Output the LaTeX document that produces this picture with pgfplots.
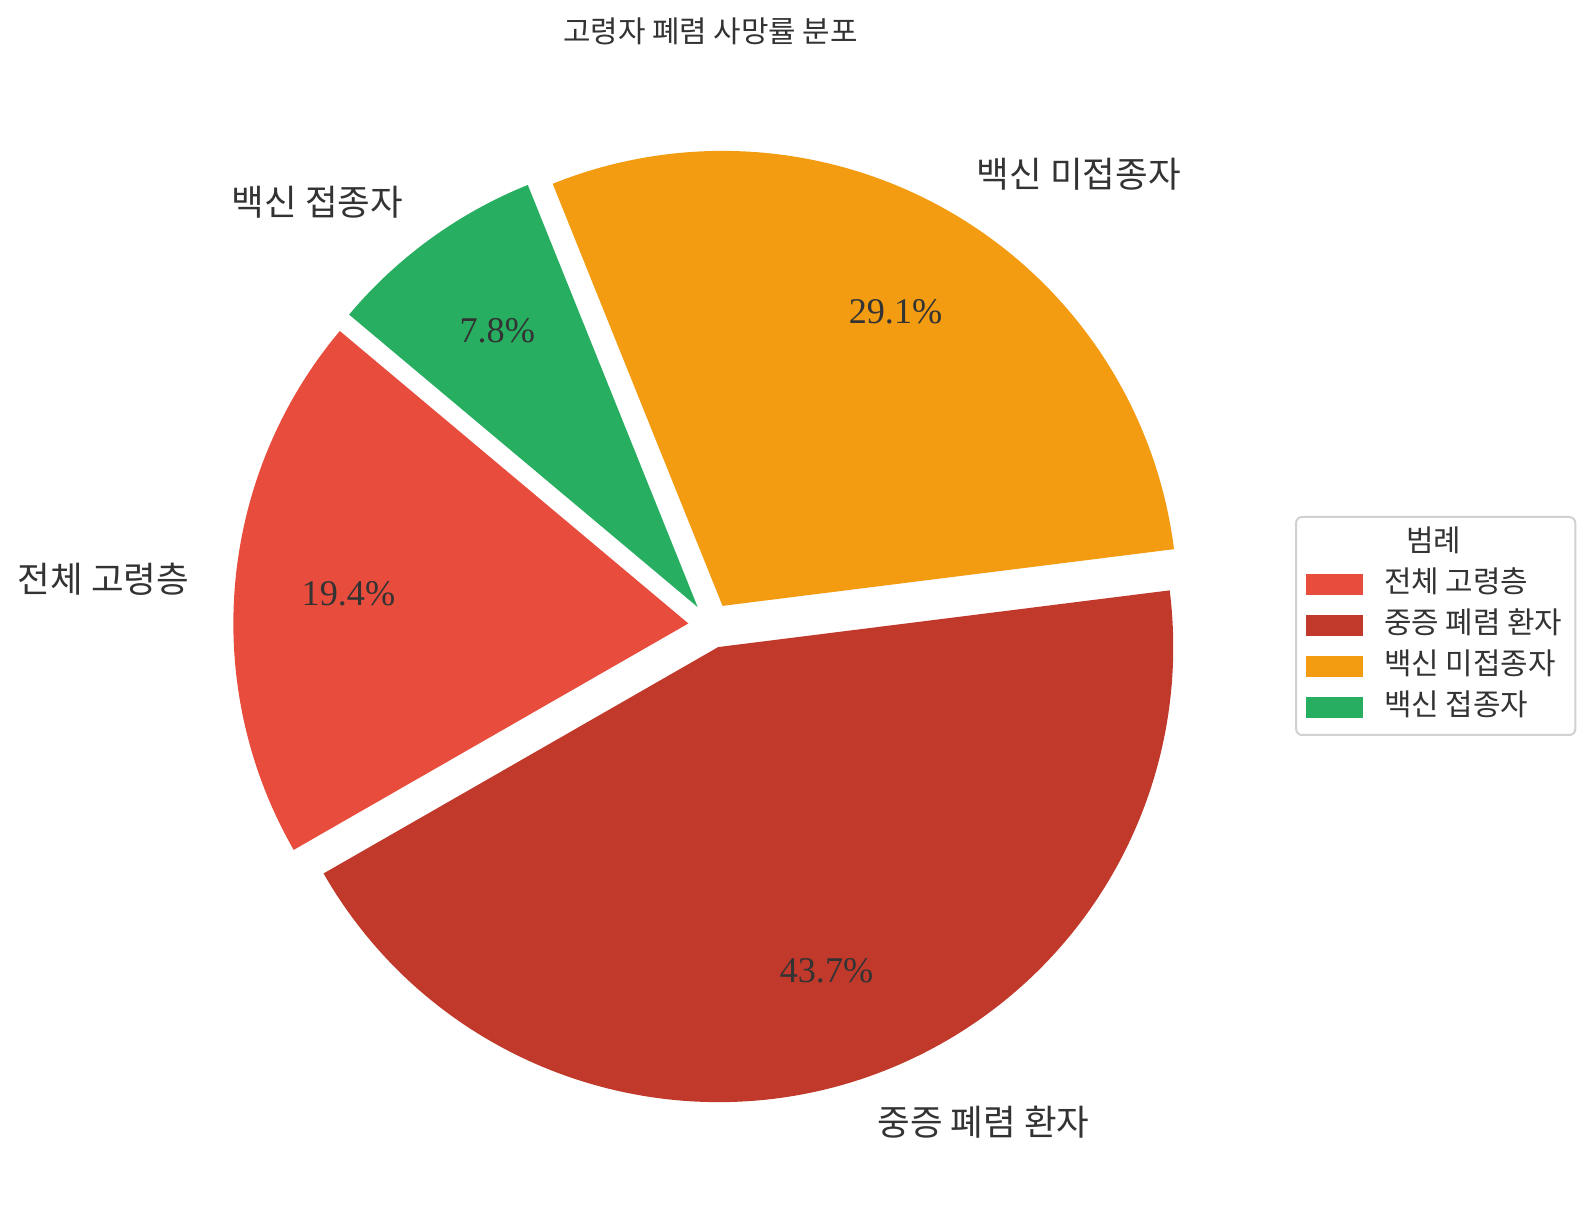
\documentclass[border=0pt]{standalone}
\usepackage{fontspec}
\usepackage{pgfplots}
\pgfplotsset{compat=1.18}
\newfontfamily\kr{Noto Sans CJK KR}
\newfontfamily\pctfont{Liberation Serif}
\definecolor{cA}{HTML}{E74C3C}
\definecolor{cB}{HTML}{C0392B}
\definecolor{cC}{HTML}{F39C12}
\definecolor{cD}{HTML}{27AE60}
\definecolor{textc}{HTML}{333333}
\tikzset{
  pct/.style={font=\fontsize{10.3}{12}\selectfont\pctfont, text=textc, inner sep=0pt},
  lab/.style={font=\fontsize{10.1}{12}\selectfont\kr, text=textc, inner sep=0pt},
}
\pgfplotsset{piepatch/.style={legend image code/.code={\fill[#1, sharp corners] (0mm,-0.95mm) rectangle (5.5mm,0.95mm);}}}
% running start angle of the pie (matplotlib startangle=140, counterclockwise)
\xdef\pieangle{140}
% #1 value (percent), #2 colour, #3 label, #4 label anchor
\newcommand{\piewedge}[4]{%
  \pgfmathsetmacro\wStart{\pieangle}%
  \pgfmathsetmacro\wEnd{\pieangle+3.6*#1}%
  \pgfmathsetmacro\wMid{\pieangle+1.8*#1}%
  \edef\wcmd{%
    \noexpand\fill[#2] ([shift={(\wMid:2.275mm)}]axis cs:711,589.5) -- ++(\wStart:45.5mm)
      arc[start angle=\wStart, end angle=\wEnd, radius=45.5mm] -- cycle;
    \noexpand\node[pct] at ([shift={(\wMid:36.4mm)}]axis cs:711,589.5) {#1\noexpand\%};
    \noexpand\node[lab, anchor=#4] at ([shift={(\wMid:52.325mm)}]axis cs:711,589.5) {#3};
  }\wcmd
  \xdef\pieangle{\wEnd}}
\begin{document}
\begin{tikzpicture}
\useasboundingbox (0,0) rectangle (159.1mm,121.5mm);
\begin{axis}[
  at={(0,0)}, anchor=origin,
  x=0.1mm, y=0.1mm,
  xmin=0, xmax=1591, ymin=0, ymax=1215,
  hide axis, clip=false,
  legend cell align=left,
  legend style={
    at={(axis cs:1295,699)}, anchor=north west,
    draw=black!18, line width=0.2mm, rounded corners=0.6mm, fill=white,
    font=\fontsize{8.5}{10}\selectfont\kr, text=textc,
    inner xsep=1.0mm, inner ysep=1.05mm,
    row sep=0.8mm,
    nodes={inner sep=0.3mm, text height=2.1mm, text depth=0.6mm},
    /tikz/every odd column/.append style={column sep=1.8mm},
  },
]
\piewedge{19.4}{cA}{전체 고령층}{east}
\piewedge{43.7}{cB}{중증 폐렴 환자}{west}
\piewedge{29.1}{cC}{백신 미접종자}{west}
\piewedge{7.8}{cD}{백신 접종자}{east}
\node[font=\fontsize{8.5}{10}\selectfont\kr, text=textc] at (axis cs:710.5,1183.3) {고령자 폐렴 사망률 분포};
\addlegendimage{empty legend}\addlegendentry{\hspace{2.2mm}범례}
\addlegendimage{piepatch=cA}\addlegendentry{전체 고령층}
\addlegendimage{piepatch=cB}\addlegendentry{중증 폐렴 환자}
\addlegendimage{piepatch=cC}\addlegendentry{백신 미접종자}
\addlegendimage{piepatch=cD}\addlegendentry{백신 접종자}
\end{axis}
\end{tikzpicture}
\end{document}
